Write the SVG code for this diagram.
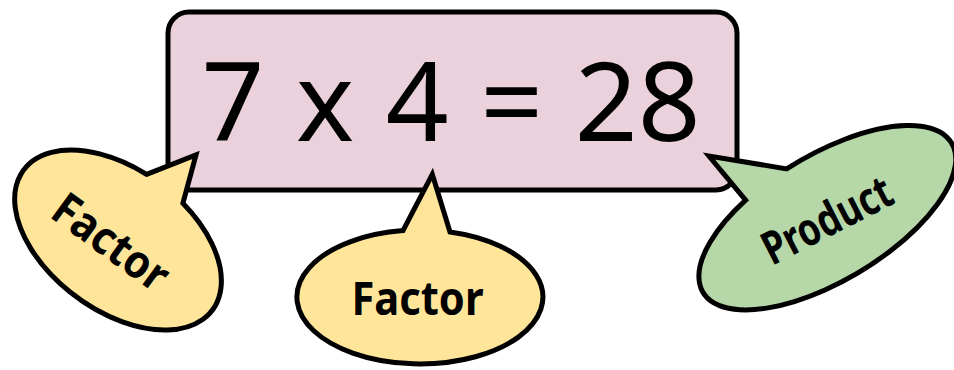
<svg xmlns="http://www.w3.org/2000/svg" width="954" height="370" viewBox="0 0 954 370">
<style>
.outline{stroke:#000;stroke-width:5;stroke-linejoin:miter}
.yellow{fill:#ffe599}
.green{fill:#b6d7a8}
.pink{fill:#ead1dc}
.eq{font-family:"Noto Sans","DejaVu Sans",sans-serif;font-size:110px;fill:#000;word-spacing:3px}
.lbl{font-family:"Noto Sans","DejaVu Sans",sans-serif;font-size:46px;font-weight:bold;fill:#000}
</style>
<g id="equation">
<rect class="outline pink" x="168" y="12" width="569" height="178" rx="21"/>
<text class="eq" x="451" y="141" text-anchor="middle">7 x 4 = 28</text>
</g>
<g id="connectors"></g>
<g id="factor-left">
<path class="outline yellow" d="M146.6,174.3 L196,155 L182.9,203.3 A117.5,70.5 36.5 1 1 146.6,174.3 Z"/>
<text class="lbl" transform="translate(111,242) rotate(36)" x="0" y="16" text-anchor="middle" textLength="132" lengthAdjust="spacingAndGlyphs">Factor</text>
</g>
<g id="factor-middle">
<path class="outline yellow" d="M403,230.6 L432.3,174.3 L450,232 A123,67 0 1 1 403,230.6 Z"/>
<text class="lbl" x="417.5" y="315" text-anchor="middle" textLength="132" lengthAdjust="spacingAndGlyphs">Factor</text>
</g>
<g id="product">
<path class="outline green" d="M745.6,200.2 L709,156 L786.6,168.9 A145,63 -31 1 1 745.6,200.2 Z"/>
<text class="lbl" transform="translate(827,220) rotate(-27)" x="0" y="16" text-anchor="middle" textLength="140" lengthAdjust="spacingAndGlyphs">Product</text>
</g>
</svg>
